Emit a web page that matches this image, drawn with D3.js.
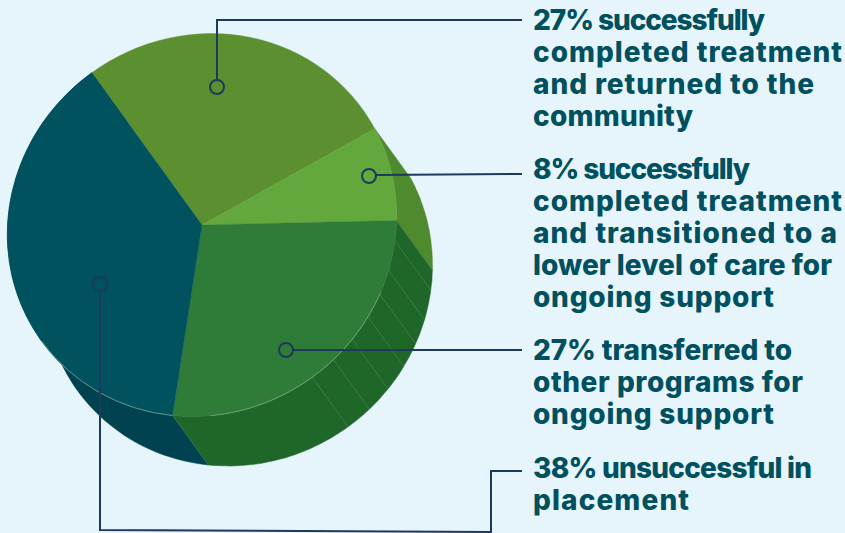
<!DOCTYPE html>
<html>
<head>
<meta charset="utf-8">
<script src="https://cdn.jsdelivr.net/npm/d3@7"></script>
<style>
	html, body { margin: 0; padding: 0; background: #e6f4fb; }
	svg { display: block; }
	.callout { font-family: Inter, sans-serif; font-weight: 800; font-size: 28px; fill: #00505f; }
</style>
</head>
<body>
<svg id="chart" width="845" height="533"></svg>
<script>
// chart data, clockwise from the olive slice
const sliceNames = ['returned', 'stepdown', 'transferred', 'unsuccessful'];
const sliceValues = [27, 8, 27, 38];
const topColors = ['#5b8f2f', '#63a83c', '#2f7b38', '#00525f'];
const sideColors = [null, '#4f8a2e', '#1f6629', '#00424f'];

const calloutLines = [
	['27% successfully', 'completed treatment', 'and returned to the', 'community'],
	['8% successfully', 'completed treatment', 'and transitioned to a', 'lower level of care for', 'ongoing support'],
	['27% transferred to', 'other programs for', 'ongoing support'],
	['38% unsuccessful in', 'placement']
];

// layout of the callouts: first baseline of each block, width of each line
const calloutFirstBaseline = [30, 179, 360, 478];
const calloutWidths = [
	[232, 309, 281, 160],
	[217, 309, 304, 299, 241],
	[259, 270, 241],
	[279, 156]
];

// the little grooves on the green side, in degrees around the disc
const grooveDegrees = [132, 141, 148.5, 156, 164, 172, 180];

// layout: the pie is a tilted disc, so it is drawn on a unit circle
// and squashed along the direction the side wall runs
const cx = 202, cy = 225;
const majorR = 198, minorR = 188;
const tiltDeg = -35.9;
const depth = 0.325; // wall height, in unit circle terms
const rad = d => d * Math.PI / 180;

const svg = d3.select('#chart');

const slices = d3.pie().sort(null)(sliceValues);
const arc = d3.arc().innerRadius(0).outerRadius(1);
const rimArc = d3.arc().innerRadius(1).outerRadius(1);

const pieGroup = svg.append('g')
	.attr('transform', `translate(${cx},${cy}) rotate(${tiltDeg}) scale(${majorR},${minorR})`);

// side wall of one slice: top arc forwards, lowered arc backwards
function sidePath(d) {
	const steps = d3.range(0, 61).map(i => d.startAngle + (d.endAngle - d.startAngle) * i / 60);
	const top = steps.map(a => d3.pointRadial(a, 1));
	const low = steps.slice().reverse().map(a => {
		const p = d3.pointRadial(a, 1);
		return [p[0], p[1] + depth];
	});
	return d3.line()(top.concat(low)) + 'Z';
}

pieGroup.selectAll('path.side')
	.data(slices.filter(d => sideColors[d.index]))
	.join('path')
	.attr('class', 'side')
	.attr('d', sidePath)
	.attr('fill', d => sideColors[d.index])
	.attr('stroke', d => sideColors[d.index])
	.attr('stroke-width', 0.5)
	.attr('vector-effect', 'non-scaling-stroke');

// thin light edges running down the side wall
const edgeAngles = [slices[2].startAngle, slices[3].startAngle].concat(grooveDegrees.map(rad));
pieGroup.selectAll('line.groove')
	.data(edgeAngles)
	.join('line')
	.attr('class', 'groove')
	.attr('x1', a => d3.pointRadial(a, 1)[0])
	.attr('y1', a => d3.pointRadial(a, 1)[1])
	.attr('x2', a => d3.pointRadial(a, 1)[0])
	.attr('y2', a => d3.pointRadial(a, 1)[1] + depth)
	.attr('stroke', '#6fa37a')
	.attr('stroke-opacity', 0.7)
	.attr('stroke-width', 0.5)
	.attr('vector-effect', 'non-scaling-stroke');

pieGroup.selectAll('path.top')
	.data(slices)
	.join('path')
	.attr('class', 'top')
	.attr('d', arc)
	.attr('fill', d => topColors[d.index])
	.attr('stroke', d => topColors[d.index])
	.attr('stroke-width', 0.4)
	.attr('vector-effect', 'non-scaling-stroke');

// faint rim where the top meets the wall
const rimDegrees = [[148, 212], [223.2, 270]];
pieGroup.selectAll('path.rim')
	.data(rimDegrees)
	.join('path')
	.attr('class', 'rim')
	.attr('d', d => rimArc({ startAngle: rad(d[0]), endAngle: rad(d[1]) }))
	.attr('fill', 'none')
	.attr('stroke', '#8fb8a0')
	.attr('stroke-opacity', 0.7)
	.attr('stroke-width', 0.5)
	.attr('vector-effect', 'non-scaling-stroke');

// leader lines
const leaders = [
	{ dot: [217, 87], path: [[217, 80], [217, 20], [522, 20]] },
	{ dot: [369, 176], path: [[376, 175], [522, 174]] },
	{ dot: [286, 350], path: [[293, 350], [522, 350]] },
	{ dot: [100, 284], path: [[100, 291], [100, 530], [491, 532], [491, 471], [522, 471]] }
];

svg.selectAll('path.leader')
	.data(leaders)
	.join('path')
	.attr('class', 'leader')
	.attr('d', d => d3.line()(d.path))
	.attr('fill', 'none')
	.attr('stroke', '#1b3a5c')
	.attr('stroke-width', 2);

svg.selectAll('circle.dot')
	.data(leaders)
	.join('circle')
	.attr('class', 'dot')
	.attr('cx', d => d.dot[0])
	.attr('cy', d => d.dot[1])
	.attr('r', 7)
	.attr('fill', 'none')
	.attr('stroke', '#1b3a5c')
	.attr('stroke-width', 2);

// callout text, one element per line so each can be fitted to its width
const lineRows = calloutLines.flatMap((block, i) => block.map((line, j) => ({
	line,
	y: calloutFirstBaseline[i] + j * 32,
	width: calloutWidths[i][j]
})));

svg.selectAll('text.callout')
	.data(lineRows)
	.join('text')
	.attr('class', 'callout')
	.attr('x', 533)
	.attr('y', d => d.y)
	.attr('textLength', d => d.width)
	.attr('lengthAdjust', 'spacing')
	.text(d => d.line);
</script>
</body>
</html>
